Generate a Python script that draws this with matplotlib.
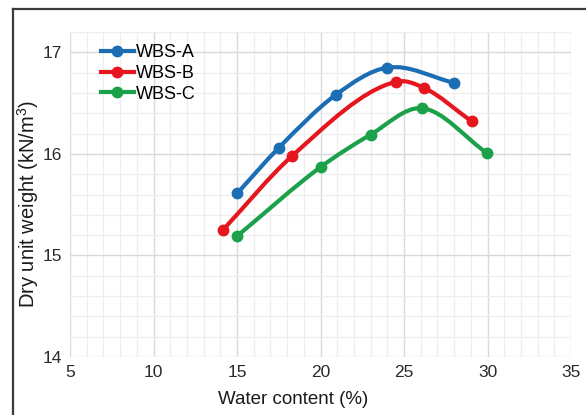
import matplotlib
matplotlib.use("Agg")
import matplotlib.pyplot as plt
from matplotlib.path import Path
from matplotlib.patches import PathPatch
from matplotlib.lines import Line2D
from matplotlib.ticker import MultipleLocator
import numpy as np

plt.rcParams['font.family'] = ['Liberation Sans', 'DejaVu Sans']
plt.rcParams['mathtext.fontset'] = 'custom'
plt.rcParams['mathtext.rm'] = 'Liberation Sans'

# Compaction data: water content (%) vs dry unit weight (kN/m^3)
water_a = [15.0, 17.5, 20.9, 24.0, 28.0]
weight_a = [15.61, 16.06, 16.58, 16.85, 16.70]

water_b = [14.15, 18.3, 24.5, 26.2, 29.05]
weight_b = [15.25, 15.98, 16.71, 16.65, 16.32]

water_c = [15.0, 20.0, 23.0, 26.05, 29.95]
weight_c = [15.19, 15.87, 16.19, 16.45, 16.01]

labels = ["WBS-A", "WBS-B", "WBS-C"]
colors = ["#1b6db4", "#e5161d", "#1ca14b"]

x_ticks = [5, 10, 15, 20, 25, 30, 35]
y_ticks = [14, 15, 16, 17]


def smooth_path(xs, ys):
    """Piecewise cubic Hermite curve through the points, drawn as Bezier segments."""
    x = np.asarray(xs, float)
    y = np.asarray(ys, float)
    n = len(x)
    sec = np.diff(y) / np.diff(x)
    slopes = np.empty(n)
    slopes[0] = sec[0]
    slopes[-1] = sec[-1]
    slopes[1:-1] = 0.5 * (sec[:-1] + sec[1:])
    verts = [(x[0], y[0])]
    codes = [Path.MOVETO]
    for i in range(n - 1):
        h = x[i + 1] - x[i]
        c1 = (x[i] + h / 3, y[i] + slopes[i] * h / 3)
        c2 = (x[i + 1] - h / 3, y[i + 1] - slopes[i + 1] * h / 3)
        verts += [c1, c2, (x[i + 1], y[i + 1])]
        codes += [Path.CURVE4] * 3
    return Path(verts, codes)


fig = plt.figure(figsize=(5.86, 4.15), dpi=100)
ax = fig.add_axes([0.1195, 0.1398, 0.855, 0.783])

ax.set_xlim(5, 35)
ax.set_ylim(14, 17.2)
ax.set_xticks(x_ticks)
ax.set_yticks(y_ticks)
ax.xaxis.set_minor_locator(MultipleLocator(1))
ax.yaxis.set_minor_locator(MultipleLocator(0.2))
ax.grid(which='major', color='#d9d9d9', linewidth=1.0)
ax.grid(which='minor', color='#eeeeee', linewidth=0.9)
ax.set_axisbelow(True)
for s in ax.spines.values():
    s.set_visible(False)
ax.tick_params(which='both', length=0, labelsize=12.5, colors='#2a2a2a', pad=6)

series = [(water_a, weight_a), (water_b, weight_b), (water_c, weight_c)]
handles = []
for (xs, ys), col, lab in zip(series, colors, labels):
    patch = PathPatch(smooth_path(xs, ys), facecolor='none', edgecolor=col,
                      linewidth=3.0, capstyle='round', joinstyle='round', zorder=3)
    ax.add_patch(patch)
    ax.plot(xs, ys, linestyle='none', marker='o', markersize=7.5,
            color=col, zorder=4)
    handles.append(Line2D([], [], color=col, linewidth=3.0, marker='o',
                          markersize=7.5, label=lab))

ax.legend(handles=handles, loc='upper left', bbox_to_anchor=(0.062, 0.962),
          frameon=False, fontsize=13, handlelength=1.8, handletextpad=0.15,
          labelspacing=0.2, borderpad=0, borderaxespad=0)

ax.set_xlabel("Water content (%)", fontsize=13.5, color='#1a1a1a')
ax.xaxis.set_label_coords(0.445, -0.104)
ax.set_ylabel("Dry unit weight (kN/m$^3$)", fontsize=14.5, color='#1a1a1a')
ax.yaxis.set_label_coords(-0.057, 0.47)

# Outer frame lines along the top and left edges
fig.add_artist(Line2D([13 / 586, 1.0], [1 - 9 / 415, 1 - 9 / 415],
                      transform=fig.transFigure, color='#3a3a3a', linewidth=1.6))
fig.add_artist(Line2D([13 / 586, 13 / 586], [0.0, 1 - 9 / 415],
                      transform=fig.transFigure, color='#3a3a3a', linewidth=1.6))

fig.savefig("out.png", dpi=100, facecolor='white')
